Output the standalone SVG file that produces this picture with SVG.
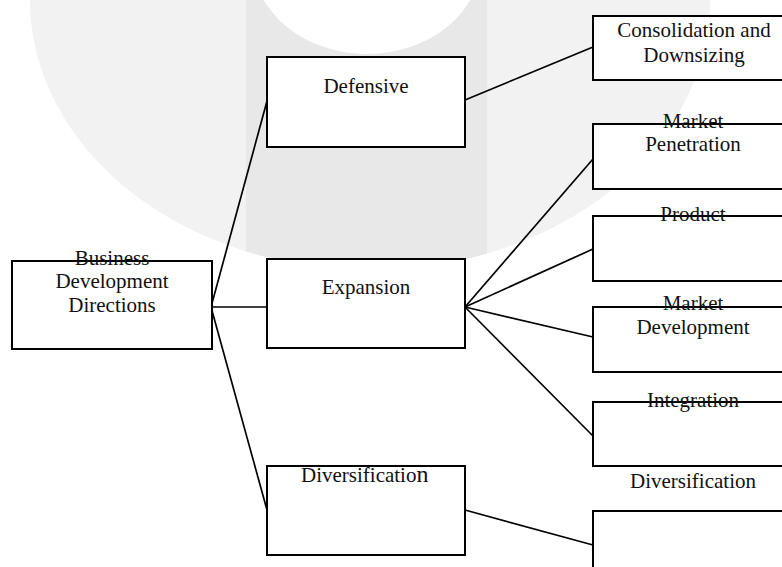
<svg xmlns="http://www.w3.org/2000/svg" width="782" height="567" viewBox="0 0 782 567">
  <style>
    .box { fill: #ffffff; stroke: #000000; stroke-width: 2; }
    .lbl { font-family: "Liberation Serif", "Times New Roman", serif; font-size: 21px; fill: #111111; text-anchor: middle; }
    .edge { stroke: #000000; stroke-width: 1.7; fill: none; }
  </style>
  <defs>
    <clipPath id="wmClip">
      <ellipse cx="370" cy="0" rx="340" ry="270"/>
    </clipPath>
  </defs>

  <rect x="0" y="0" width="782" height="567" fill="#ffffff"/>
  <g id="watermark">
    <ellipse cx="370" cy="0" rx="340" ry="270" fill="#f2f2f2"/>
    <rect x="246" y="0" width="241" height="300" fill="#e8e8e8" clip-path="url(#wmClip)"/>
    <ellipse cx="367" cy="-40" rx="114" ry="94" fill="#ffffff"/>
  </g>

  <g id="connectors">
    <line class="edge" x1="211" y1="307" x2="267" y2="101"/>
    <line class="edge" x1="211" y1="307" x2="267" y2="307"/>
    <line class="edge" x1="211" y1="307" x2="267" y2="510"/>
    <line class="edge" x1="465" y1="100" x2="593" y2="47"/>
    <line class="edge" x1="465" y1="307" x2="593" y2="159"/>
    <line class="edge" x1="465" y1="307" x2="593" y2="249"/>
    <line class="edge" x1="465" y1="307" x2="593" y2="337"/>
    <line class="edge" x1="465" y1="307" x2="593" y2="436"/>
    <line class="edge" x1="465" y1="510" x2="593" y2="545"/>
  </g>

  <g id="root">
    <rect class="box" x="12" y="261" width="200" height="88"/>
    <text class="lbl" x="112" y="265">Business</text>
    <text class="lbl" x="112" y="288">Development</text>
    <text class="lbl" x="112" y="312">Directions</text>
  </g>

  <g id="defensive">
    <rect class="box" x="267" y="57" width="198" height="90"/>
    <text class="lbl" x="366" y="93">Defensive</text>
  </g>

  <g id="expansion">
    <rect class="box" x="267" y="259" width="198" height="89"/>
    <text class="lbl" x="366" y="294">Expansion</text>
  </g>

  <g id="diversification">
    <rect class="box" x="267" y="466" width="198" height="89"/>
    <text class="lbl" x="301" y="482" style="text-anchor:start">Diversificatio<tspan font-size="24">n</tspan></text>
  </g>

  <g id="consolidation">
    <rect class="box" x="593" y="16" width="200" height="64"/>
    <text class="lbl" x="694" y="37">Consolidation and</text>
    <text class="lbl" x="694" y="62">Downsizing</text>
  </g>

  <g id="market-penetration">
    <rect class="box" x="593" y="124" width="200" height="65"/>
    <text class="lbl" x="693" y="128">Market</text>
    <text class="lbl" x="693" y="151">Penetration</text>
  </g>

  <g id="product">
    <rect class="box" x="593" y="216" width="200" height="65"/>
    <text class="lbl" x="693" y="221">Product</text>
  </g>

  <g id="market-development">
    <rect class="box" x="593" y="307" width="200" height="65"/>
    <text class="lbl" x="693" y="310">Market</text>
    <text class="lbl" x="693" y="334">Development</text>
  </g>

  <g id="integration">
    <rect class="box" x="593" y="402" width="200" height="64"/>
    <text class="lbl" x="693" y="407">Integration</text>
  </g>

  <g id="diversification-right">
    <text class="lbl" x="693" y="488">Diversification</text>
    <rect class="box" x="593" y="511" width="200" height="70"/>
  </g>
</svg>
